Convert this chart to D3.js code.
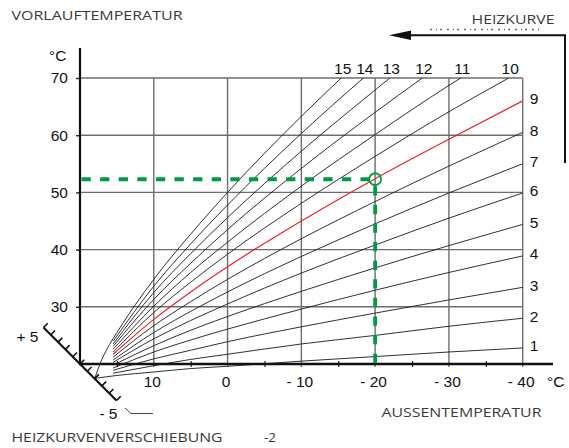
<!DOCTYPE html>
<html><head><meta charset="utf-8">
<script src="https://cdn.jsdelivr.net/npm/d3@7"></script>
<style>
html,body{margin:0;padding:0;background:#fff;}
svg{display:block;}
</style></head>
<body>
<svg id="chart" width="569" height="448"></svg>
<script>
// ---------- DATA ----------
// outdoor temperature [°C], flow temperature [°C]
const heizkurve1  = [[18,17.5],[15,18.0],[10,18.6],[5,19.2],[0,19.6],[-10,20.5],[-20,21.3],[-30,22.1],[-40,22.8]];
const heizkurve2  = [[15.5,18.4],[10,19.7],[5,20.8],[0,21.7],[-10,23.5],[-20,25.0],[-30,26.6],[-40,28.0]];
const heizkurve3  = [[15.5,18.9],[10,20.9],[5,22.4],[0,23.9],[-10,26.5],[-20,28.9],[-30,31.2],[-40,33.4]];
const heizkurve4  = [[15.5,19.3],[10,22.1],[5,24.2],[0,26.1],[-10,29.6],[-20,32.9],[-30,36.0],[-40,38.9]];
const heizkurve5  = [[15.5,19.8],[10,23.2],[5,25.9],[0,28.3],[-10,32.7],[-20,36.8],[-30,40.7],[-40,44.4]];
const heizkurve6  = [[15.5,20.3],[10,24.4],[5,27.6],[0,30.5],[-10,35.9],[-20,40.8],[-30,45.5],[-40,49.9]];
const heizkurve7  = [[15.5,20.7],[10,25.5],[5,29.2],[0,32.6],[-10,38.8],[-20,44.5],[-30,49.9],[-40,55.0]];
const heizkurve8  = [[15.5,21.2],[10,26.7],[5,30.9],[0,34.8],[-10,41.9],[-20,48.4],[-30,54.6],[-40,60.5]];
const heizkurve9  = [[15.5,21.7],[10,27.8],[5,32.6],[0,37.0],[-10,45.0],[-20,52.4],[-30,59.3],[-40,66.0]];
const heizkurve10 = [[15.5,22.1],[10,29.0],[5,34.3],[0,39.2],[-10,48.1],[-20,56.3],[-30,64.1],[-38.1,70]];
const heizkurve11 = [[15.5,22.6],[10,30.1],[5,36.0],[0,41.3],[-10,51.1],[-20,60.1],[-30,68.7],[-31.6,70]];
const heizkurve12 = [[15.5,23.1],[10,31.3],[5,37.6],[0,43.5],[-10,54.2],[-20,64.0],[-26.4,70]];
const heizkurve13 = [[15.5,23.5],[10,32.5],[5,39.3],[0,45.6],[-10,57.2],[-20,67.9],[-22.0,70]];
const heizkurve14 = [[15.5,24.0],[10,33.6],[5,41.0],[0,47.8],[-10,60.3],[-18.4,70]];
const heizkurve15 = [[18,17.5],[17,20.9],[16,23.4],[15,25.5],[10,34.8],[5,42.7],[0,50.0],[-10,63.3],[-15.4,70]];
const curveNames = ["1","2","3","4","5","6","7","8","9","10","11","12","13","14","15"];
const highlightedCurve = "9";

const xTicks = [10, 0, -10, -20, -30, -40];
const xTickLabels = ["10", "0", "- 10", "- 20", "- 30", "- 40"];
const xMinorTicks = [15, 5, -5, -15, -25, -35];
const yTicks = [30, 40, 50, 60, 70];
const shiftTicks = [-5,-4,-3,-2,-1,0,1,2,3,4,5];
const shiftValue = "-2";
const operatingPoint = [-20, 52.3];

const curves = [heizkurve1,heizkurve2,heizkurve3,heizkurve4,heizkurve5,heizkurve6,heizkurve7,heizkurve8,
                heizkurve9,heizkurve10,heizkurve11,heizkurve12,heizkurve13,heizkurve14,heizkurve15];

// ---------- DRAWING ----------
const svg = d3.select("#chart");
const numFont = "'Liberation Sans', Arial, sans-serif";
const txtFont = "'Open Sans', 'Noto Sans', sans-serif";

const x = d3.scaleLinear().domain([20, -40]).range([80, 522.7]);
const y = d3.scaleLinear().domain([20, 70]).range([364, 78]);

const gridColor = "#6e6e6e";

// grid
svg.append("g").selectAll("line.h").data(yTicks).join("line")
  .attr("x1", x(20)).attr("x2", x(-40))
  .attr("y1", d => y(d)).attr("y2", d => y(d))
  .attr("stroke", gridColor).attr("stroke-width", 1.4);
svg.append("g").selectAll("line.v").data(xTicks).join("line")
  .attr("x1", d => x(d)).attr("x2", d => x(d))
  .attr("y1", y(70)).attr("y2", y(20) + 3)
  .attr("stroke", gridColor).attr("stroke-width", 1.4);

// y axis with d3 axis
const yAxis = svg.append("g").attr("transform", `translate(${x(20)},0)`)
  .call(d3.axisLeft(y).tickValues(yTicks).tickSize(4).tickPadding(8).tickFormat(d3.format("d")));
yAxis.select(".domain").remove();
yAxis.selectAll("line").attr("stroke", "#222").attr("stroke-width", 1.4);
yAxis.selectAll("text").attr("font-family", numFont).attr("font-size", 15.5).attr("fill", "#111");

// x axis with d3 axis
const xAxis = svg.append("g").attr("transform", `translate(0,${y(20)})`)
  .call(d3.axisBottom(x).tickValues(xMinorTicks).tickSize(3).tickFormat(""));
xAxis.select(".domain").remove();
xAxis.selectAll("line").attr("stroke", "#222").attr("stroke-width", 1.2).attr("y1", -3);
const xAxis2 = svg.append("g").attr("transform", `translate(0,${y(20)})`)
  .call(d3.axisBottom(x).tickValues(xTicks).tickSize(3).tickPadding(9).tickFormat((d,i) => xTickLabels[i]));
xAxis2.select(".domain").remove();
xAxis2.selectAll("line").remove();
xAxis2.selectAll("text").attr("font-family", numFont).attr("font-size", 15.5).attr("fill", "#111").attr("dx", -2);

// main axis lines
svg.append("line").attr("x1", x(20)).attr("x2", x(20)).attr("y1", 48).attr("y2", y(20) + 1)
  .attr("stroke", "#111").attr("stroke-width", 2.2);
svg.append("line").attr("x1", x(20) - 1).attr("x2", 553).attr("y1", y(20)).attr("y2", y(20))
  .attr("stroke", "#111").attr("stroke-width", 2.6);

// heating curves
const line = d3.line().x(d => x(d[0])).y(d => y(d[1])).curve(d3.curveMonotoneX);
svg.append("g").selectAll("path").data(curves).join("path")
  .attr("d", line)
  .attr("fill", "none")
  .attr("stroke", (d,i) => curveNames[i] === highlightedCurve ? "#e8232b" : "#1a1a1a")
  .attr("stroke-width", (d,i) => curveNames[i] === highlightedCurve ? 1.2 : 0.9);

// right labels (curves 1-9 end at -40)
svg.append("g").selectAll("text").data(curves.filter(c => c[c.length-1][0] === -40)).join("text")
  .attr("x", x(-40) + 7)
  .attr("y", d => y(d[d.length-1][1]) + 3.5)
  .attr("font-family", numFont).attr("font-size", 15.5).attr("fill", "#111")
  .text(d => curveNames[curves.indexOf(d)]);
// top labels (curves 10-15 end at 70)
svg.append("g").selectAll("text").data(curves.filter(c => c[c.length-1][1] === 70)).join("text")
  .attr("x", d => x(d[d.length-1][0]) + 1.5)
  .attr("y", 74)
  .attr("text-anchor", "middle")
  .attr("font-family", numFont).attr("font-size", 15.5).attr("fill", "#111")
  .text(d => curveNames[curves.indexOf(d)]);

// operating point (green)
const green = "#00994a";
const px = x(operatingPoint[0]), py = y(operatingPoint[1]), r = 6;
svg.append("line").attr("x1", x(20) + 1.5).attr("x2", px - r).attr("y1", py).attr("y2", py)
  .attr("stroke", green).attr("stroke-width", 3.8).attr("stroke-dasharray", "9.3,9.3");
svg.append("line").attr("x1", px).attr("x2", px).attr("y1", py + r + 1).attr("y2", y(20))
  .attr("stroke", green).attr("stroke-width", 3.8).attr("stroke-dasharray", "9.3,9.3");
svg.append("circle").attr("cx", px).attr("cy", py).attr("r", r)
  .attr("fill", "none").attr("stroke", green).attr("stroke-width", 1.8);

// shift scale (Heizkurvenverschiebung)
const sUnit = 7.3;
const sPos = s => [x(20) - s * sUnit, y(20) - s * sUnit * -1 * -1 + s * 0]; // placeholder, replaced below
const shiftPt = s => [x(20) - s * sUnit, y(20) + s * sUnit * -1 + 0];
// +5 is upper-left, -5 lower-right
const sp = s => [x(20) - s * sUnit, y(20) - s * sUnit];
const p5 = sp(5), m5 = sp(-5);
svg.append("line").attr("x1", p5[0]).attr("y1", p5[1]).attr("x2", m5[0]).attr("y2", m5[1])
  .attr("stroke", "#111").attr("stroke-width", 2.2);
const tl = 6 / Math.SQRT2;
svg.append("g").selectAll("line").data(shiftTicks).join("line")
  .attr("x1", d => sp(d)[0]).attr("y1", d => sp(d)[1])
  .attr("x2", d => sp(d)[0] + tl).attr("y2", d => sp(d)[1] - tl)
  .attr("stroke", "#111").attr("stroke-width", 1.6);
svg.append("text").attr("x", p5[0] - 5).attr("y", p5[1] + 14)
  .attr("text-anchor", "end").attr("font-family", numFont).attr("font-size", 15.5).attr("fill", "#111").text("+ 5");
svg.append("text").attr("x", m5[0] + 1).attr("y", m5[1] + 18.5)
  .attr("text-anchor", "end").attr("font-family", numFont).attr("font-size", 15.5).attr("fill", "#111").text("- 5");
svg.append("polyline").attr("points", "125,408 131,413.5 153,413.5")
  .attr("fill", "none").attr("stroke", "#444").attr("stroke-width", 1);

// unit labels
svg.append("text").attr("x", 49).attr("y", 60.5).attr("font-family", numFont).attr("font-size", 15.5).attr("fill", "#111").text("°C");
svg.append("text").attr("x", 547).attr("y", 387).attr("font-family", numFont).attr("font-size", 15.5).attr("fill", "#111").text("°C");

// titles
function label(t, x0, yb, w) {
  svg.append("text").attr("x", x0).attr("y", yb)
    .attr("font-family", txtFont).attr("font-size", 13.5).attr("fill", "#3a3a3a")
    .attr("textLength", w).attr("lengthAdjust", "spacingAndGlyphs").text(t);
}
label("VORLAUFTEMPERATUR", 11.5, 19.5, 171);
label("HEIZKURVE", 471.5, 24, 83);
label("AUSSENTEMPERATUR", 381.5, 417, 160);
label("HEIZKURVENVERSCHIEBUNG", 11.5, 441.5, 211);
svg.append("text").attr("x", 264).attr("y", 441.5)
  .attr("font-family", txtFont).attr("font-size", 13.5).attr("fill", "#3a3a3a").text(shiftValue);

// heizkurve arrow
svg.append("path").attr("d", "M408,35.3 H565 V163")
  .attr("fill", "none").attr("stroke", "#111").attr("stroke-width", 2);
svg.append("path").attr("d", "M389,35.3 L411,30.5 L411,40.1 Z").attr("fill", "#111");
svg.append("line").attr("x1", 430).attr("x2", 542).attr("y1", 29.5).attr("y2", 29.5)
  .attr("stroke", "#666").attr("stroke-width", 1.3).attr("stroke-dasharray", "2,4,1,3,2,5");
</script>
</body></html>
